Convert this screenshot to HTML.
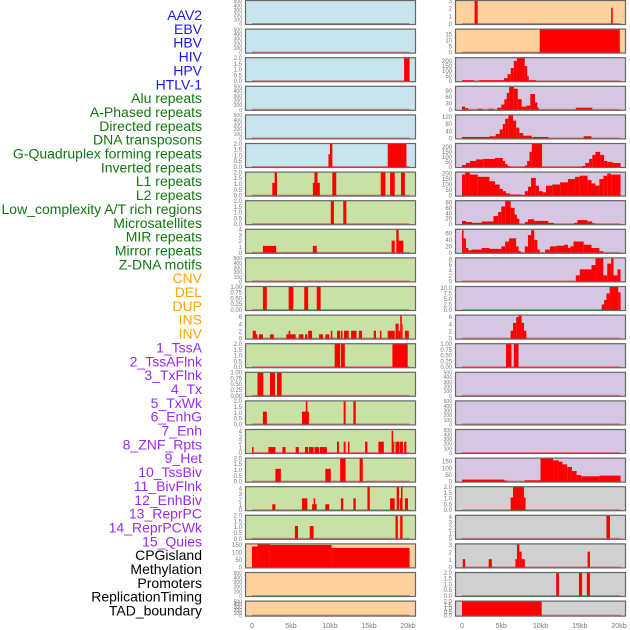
<!DOCTYPE html>
<html><head><meta charset="utf-8"><style>
html,body{margin:0;padding:0;background:#fff;}
svg{display:block;font-family:"Liberation Sans",sans-serif;}
</style></head><body>
<svg id="chart" width="630" height="630" viewBox="0 0 630 630" xmlns="http://www.w3.org/2000/svg"></svg>
<script>
const labels=["AAV2","EBV","HBV","HIV","HPV","HTLV-1","Alu repeats","A-Phased repeats","Directed repeats","DNA transposons","G-Quadruplex forming repeats","Inverted repeats","L1 repeats","L2 repeats","Low_complexity A/T rich regions","Microsatellites","MIR repeats","Mirror repeats","Z-DNA motifs","CNV","DEL","DUP","INS","INV","1_TssA","2_TssAFlnk","3_TxFlnk","4_Tx","5_TxWk","6_EnhG","7_Enh","8_ZNF_Rpts","9_Het","10_TssBiv","11_BivFlnk","12_EnhBiv","13_ReprPC","14_ReprPCWk","15_Quies","CPGisland","Methylation","Promoters","ReplicationTiming","TAD_boundary"];
const labelGroups=[0,0,0,0,0,0,1,1,1,1,1,1,1,1,1,1,1,1,1,2,2,2,2,2,3,3,3,3,3,3,3,3,3,3,3,3,3,3,3,4,4,4,4,4];
const groupColors=["#1a1aee","#117711","#ffa500","#9a2bef","#000000"];
const xTicks=[0,5,10,15,20];
const xTickLabels=["0","5kb","10kb","15kb","20kb"];
const E=[0,100,200,300,400,500];
const T2=[0,0.5,1,1.5,2];
const T1=[0,0.25,0.5,0.75,1];
const leftBg=["b","b","b","b","b","b","g","g","g","g","g","g","g","g","g","g","g","g","g","o","o","o"];
const leftTicks=[E,E,T2,E,E,T2,T2,T2,[0,1,2,3,4],E,T1,[0,2,4,6],T2,T1,T2,[0,1,2,3,4],T2,[0,1,2,3,4],T2,[0,50,100,150],E,E];
const leftMax=[500,500,2,500,500,2,2,2,4,500,1,6.5,2,1,2,4.3,2,4.3,2,155,500,500];
const leftBars=[
[],[],
[[19.5,20.2,2]],
[],[],
[[9.8,10.0,1.1],[10.0,10.3,2],[17.4,19.8,2]],
[[2.6,3.2,1.1],[2.9,3.2,2],[7.8,8.7,1.1],[8.0,8.4,2],[10.3,10.8,2],[16.5,17.1,2],[17.7,18.3,2],[19.1,19.6,2]],
[[10.1,10.5,2],[11.7,12.1,2]],
[[1.4,3.1,1.2],[7.8,8.3,1.2],[17.9,18.3,2.1],[18.5,18.8,4],[18.7,19.4,2.1]],
[],
[[1.4,1.9,1],[4.7,5.3,1],[6.7,7.2,1],[8.3,8.8,1]],
[[0.1,0.5,2.2],[0.5,0.7,1.2],[0.9,1.4,1.2],[2.3,2.8,1.2],[4.4,5.6,1.2],[4.7,4.9,2.2],[6.0,6.6,1.2],[6.8,7.1,1.2],[7.2,7.7,2.2],[8.6,9.1,1.2],[9.4,9.9,1.2],[10.1,10.3,2.2],[10.9,11.3,2.2],[11.4,11.6,2.2],[11.8,12.4,2.2],[12.7,13.4,2.2],[13.7,14.1,2.2],[15.6,15.9,2.2],[16.4,16.6,2.2],[17.4,18.3,2.2],[18.4,18.8,4.2],[18.8,19.0,2.2],[19.0,19.2,6.5],[19.2,19.3,4.2],[19.6,20.1,2.2]],
[[10.6,11.3,2],[11.4,11.9,2],[18.0,19.96,2]],
[[0.7,1.45,1],[2.3,2.95,1],[3.2,3.8,1]],
[[1.4,1.9,1.1],[6.4,7.3,1.1],[6.9,7.1,2],[11.75,12.0,2],[13.0,13.3,2]],
[[0,0.2,1.1],[2.1,3.0,1.1],[3.9,4.3,1.1],[5.6,6.0,1.1],[6.8,7.2,1.1],[7.3,7.9,1.1],[8.0,8.6,1.1],[8.7,9.6,1.1],[10.9,11.15,2.1],[11.75,12.0,2.1],[12.3,12.5,2.1],[14.5,14.8,2.1],[16.2,16.9,2.1],[17.9,18.1,4.1],[18.1,18.25,2.1],[18.4,18.85,2.1],[18.9,19.35,2.1],[19.5,19.8,2.1]],
[[3.0,3.7,1.1],[9.4,10.1,1.1],[11.3,12.0,2],[13.8,14.2,2]],
[[2.6,3.0,1.1],[6.4,7.1,2.2],[7.7,8.3,1.1],[7.9,8.1,2.2],[9.4,9.9,1.1],[11.4,11.7,2.2],[13.0,13.3,2.2],[14.8,15.1,4.3],[17.7,18.3,2.2],[18.55,18.85,4.3],[18.95,19.3,2.2],[19.1,19.3,4.3],[19.6,20.0,2.2]],
[[5.5,5.9,1.1],[7.4,7.9,1.1],[18.4,18.7,2],[19.0,19.3,2]],
[[0,0.7,140],[0.7,2.3,155],[2.3,10.2,150],[10.2,20.2,130]],
[],[]
];
const rightBg=["o","o","p","p","p","p","p","p","p","p","p","p","p","p","p","p","p","k","k","k","k","k"];
const rightTicks=[[0,1,2,3],[0,5,10,15],[0,50,100,150,200],[0,30,60,90],[0,40,80,120],[0,50,100,150,200],[0,50,100,150,200],[0,20,40,60,80],[0,20,40,60],[0,2,4,6,8],[0,2.5,5,7.5,10],[0,2,4,6],T1,E,E,E,[0,50,100,150],T2,[0,1,2,3,4],[0,1,2,3],T2,T2];
const rightMax=[3,19,230,110,130,230,210,85,72,8.5,10.5,6.5,1,500,500,500,175,2,4.3,3.1,2,2];
const rightBars=[
[[1.6,2.0,3],[19.0,19.2,2.1]],
[[9.9,20.1,19]],
[[0,1.5,10],[2.2,5.35,10],[5.35,5.8,30],[5.8,6.2,70],[6.2,6.6,130],[6.6,7.0,200],[7.0,8.0,230],[8.0,8.3,150],[8.3,8.5,50],[8.5,9.4,10]],
[[0,0.4,15],[0.4,0.8,8],[2.0,2.6,5],[3.4,4.0,5],[4.5,5.0,10],[5.0,5.4,25],[5.4,5.7,50],[5.7,6.0,80],[6.0,6.6,110],[6.6,7.1,100],[7.1,7.6,50],[7.6,8.2,15],[8.2,8.7,20],[8.7,9.3,75],[9.3,9.6,35],[9.6,9.8,10],[14.5,16.6,10]],
[[0,3.5,8],[3.5,4.3,12],[4.3,4.8,25],[4.8,5.2,50],[5.2,5.5,80],[5.5,5.9,110],[5.9,6.5,130],[6.5,6.9,100],[6.9,7.3,60],[7.3,7.8,30],[7.8,8.9,15],[9.0,11.0,8],[15.5,16.5,12]],
[[0,0.5,20],[0.5,1.0,40],[1.0,1.8,60],[1.8,2.7,75],[2.7,4.2,80],[4.2,5.2,90],[5.2,5.5,60],[5.5,5.8,30],[5.8,6.1,10],[8.0,8.3,15],[8.3,8.6,60],[8.6,8.9,150],[8.9,10.2,230],[15.3,15.7,10],[15.7,16.2,40],[16.2,16.6,80],[16.6,17.0,120],[17.0,17.6,150],[17.6,18.1,120],[18.1,18.5,60],[18.5,19.2,50],[19.2,20.2,40]],
[[0,0.4,190],[0.4,1.0,210],[1.0,2.0,190],[2.0,3.5,170],[3.5,4.2,130],[4.2,4.8,100],[4.8,5.2,60],[5.2,5.6,40],[5.6,6.1,20],[6.1,7.5,10],[7.5,8.0,5],[8.0,8.4,40],[8.4,8.8,80],[8.8,9.4,160],[9.4,9.8,90],[9.8,10.3,40],[10.3,10.7,30],[10.7,11.5,90],[11.5,12.5,100],[12.5,13.5,120],[13.5,14.4,150],[14.4,15.0,170],[15.0,16.0,180],[16.0,16.5,140],[16.5,17.0,110],[17.0,17.5,90],[17.5,18.0,150],[18.0,18.5,180],[18.5,19.0,200],[19.0,20.2,190]],
[[0,0.5,12],[0.5,1.3,8],[1.3,2.5,5],[2.5,4.0,10],[4.0,4.6,30],[4.6,5.0,45],[5.0,5.5,65],[5.5,6.2,85],[6.2,6.7,60],[6.7,7.0,35],[7.0,7.3,20],[8.0,8.4,8],[8.4,9.2,18],[9.2,11.0,12],[11.0,11.7,5],[14.3,14.7,5],[14.7,16.0,15],[16.0,16.6,10],[16.6,17.0,3]],
[[0,0.2,70],[0.2,0.5,45],[0.5,0.8,15],[0.8,1.2,8],[1.2,2.5,10],[2.5,3.5,15],[3.5,5.0,12],[5.0,5.5,20],[5.5,6.0,35],[6.0,6.9,45],[6.9,7.2,20],[7.2,7.5,5],[8.0,8.4,20],[8.4,8.8,55],[8.8,9.2,70],[9.2,9.6,40],[9.6,9.9,10],[10.6,11.2,10],[11.2,12.0,20],[12.0,13.0,22],[13.0,13.5,25],[13.5,13.8,15],[13.8,14.2,20],[14.2,15.5,35],[15.5,16.5,25],[16.5,17.5,15],[17.5,18.0,5]],
[[14.5,15.0,2.2],[15.0,16.5,4.4],[16.5,17.0,6],[17.0,18.0,8.5],[18.0,18.5,2.2],[18.5,19.0,6.5],[19.0,19.3,8.5],[19.3,19.8,2.2],[19.8,20.2,4.4]],
[[17.8,18.1,2.5],[18.1,18.4,4.5],[18.4,18.8,7.5],[18.8,19.9,10.5],[19.9,20.2,8]],
[[6.2,6.5,2.2],[6.5,6.9,4.4],[6.9,7.2,6],[7.2,7.6,6.5],[7.6,7.9,4.4],[7.9,8.2,2.2]],
[[5.6,6.3,1],[6.6,7.2,1]],
[],[],[],
[[0,5.4,15],[5.4,5.8,8],[8.0,10.0,10],[10.0,11.6,175],[11.6,12.3,160],[12.3,12.8,150],[12.8,13.4,130],[13.4,14.0,110],[14.0,14.6,80],[14.6,15.2,50],[15.2,17.5,40],[17.5,20.2,45]],
[[6.2,6.5,1.1],[6.5,7.9,2],[7.9,8.1,1.1]],
[[18.4,18.85,4.3]],
[[0.1,0.4,1.1],[3.4,3.8,1.1],[6.8,7.0,1.1],[7.0,7.3,3.1],[7.3,7.6,2.1],[7.6,8.0,1.1],[16.0,16.3,2.1]],
[[12.0,12.35,2],[14.9,15.3,2],[15.9,16.3,2]],
[[0,10.15,2]]
];

const NS="http://www.w3.org/2000/svg";
const svg=document.getElementById("chart");
const bgColors={b:"#c8e4ec",g:"#c8e2a6",o:"#fed19f",p:"#d5c6e2",k:"#d0d0d0"};
const cols=[{x0:245,x1:416,z:252,w:156,bg:leftBg,ticks:leftTicks,max:leftMax,bars:leftBars,name:"left"},
            {x0:455,x1:626,z:462,w:157,bg:rightBg,ticks:rightTicks,max:rightMax,bars:rightBars,name:"right"}];
function mk(tag,attrs){const e=document.createElementNS(NS,tag);for(const k in attrs)e.setAttribute(k,attrs[k]);svg.appendChild(e);return e;}
function rowTop(i){return i*28.6;}
function rowH(i){return i===21?16:25;}

labels.forEach((t,i)=>{
  const e=mk("text",{x:202,y:15+i*13.85+5,"text-anchor":"end","font-size":"14",fill:groupColors[labelGroups[i]]});
  e.textContent=t;
  
  
});

cols.forEach(c=>{
  const xs=v=>c.z+v/20*c.w;
  for(let i=0;i<22;i++){
    const top=rowTop(i),h=rowH(i);
    const bottom=top+h-1, ytop=top+0.8;
    const ys=v=>bottom-Math.min(v,c.max[i])/c.max[i]*(bottom-ytop);
    const bg=mk("rect",{x:c.x0,y:top,width:c.x1-c.x0,height:h,fill:bgColors[c.bg[i]]});
    
    
    const base=mk("rect",{x:xs(0),y:bottom-1,width:xs(20.2)-xs(0),height:1.2,fill:"#e06060",opacity:"0.8"});
    
    
    c.bars[i].forEach(b=>{
      const y=ys(b[2]);
      const r=mk("rect",{x:xs(b[0]),y:y,width:Math.max(0.8,xs(b[1])-xs(b[0])),height:bottom-y,fill:"#ff0000"});
      
      
    });
    const fr=mk("rect",{x:c.x0+0.5,y:top+0.5,width:c.x1-c.x0-1,height:h-1,fill:"none",stroke:"#666","stroke-width":"1.2"});
    
    
    const tk=c.ticks[i];
    const dense=tk.length>5;
    tk.forEach(v=>{
      const t=mk("text",{x:c.x0-3,y:ys(v)+2,"text-anchor":"end","font-size":dense?"5":"6",fill:"#777"});
      const s=(tk===T2||tk===T1||i>=0&&c.name==="right"&&i===10)?(tk===T1?v.toFixed(2):v.toFixed(1)):String(v);
      t.textContent=s;
      
      
    });
  }
  xTicks.forEach((v,j)=>{
    const t=mk("text",{x:xs(v),y:628,"text-anchor":"middle","font-size":"7",fill:"#777"});
    t.textContent=xTickLabels[j];
    
    
  });
});
</script>
</body></html>
